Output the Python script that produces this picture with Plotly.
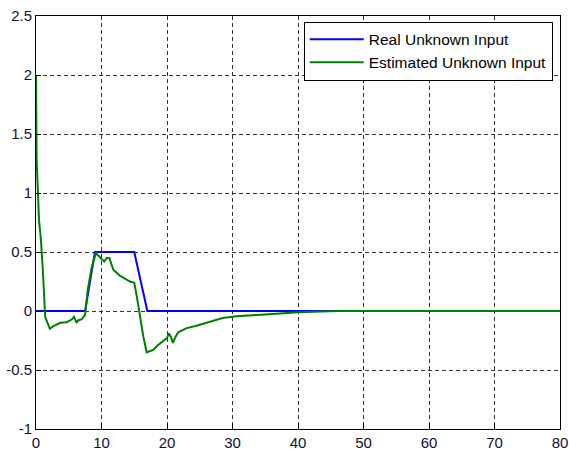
import plotly.graph_objects as go

# Real unknown input
real_t = [0, 7.5, 9.0, 15.0, 17.0, 80]
real_u = [0, 0, 0.5, 0.5, 0, 0]

# Estimated unknown input
est_t = [0, 0.1, 0.46, 0.76, 1.07, 1.4, 2.1, 2.6, 3.7, 4.7, 5.5, 5.8, 6.2, 6.4, 7.0, 7.5,
         7.9, 8.5, 9.15, 9.5, 10.0, 10.4, 10.8, 11.2, 11.8, 12.8, 14.35, 15.0, 15.4, 15.9,
         16.4, 16.9, 17.9, 18.6, 19.4, 20.0, 20.3, 20.6, 20.9, 21.2, 21.7, 23.0, 24.5, 26.6,
         28.5, 30.6, 33.0, 35.0, 37.0, 40.0, 46.0, 80]
est_u = [2.0, 1.28, 0.77, 0.6, 0.32, -0.05, -0.15, -0.13, -0.1, -0.095, -0.07, -0.05, -0.1, -0.08, -0.07, -0.03,
         0.18, 0.37, 0.49, 0.47, 0.44, 0.42, 0.45, 0.45, 0.35, 0.3, 0.25, 0.24, 0.12, -0.05,
         -0.22, -0.35, -0.33, -0.29, -0.26, -0.23, -0.19, -0.22, -0.27, -0.23, -0.18, -0.145, -0.125, -0.09,
         -0.06, -0.045, -0.035, -0.025, -0.02, -0.01, 0, 0]

x_ticks = [0, 10, 20, 30, 40, 50, 60, 70, 80]
y_ticks = [-1, -0.5, 0, 0.5, 1, 1.5, 2, 2.5]
y_tick_text = ["-1", "-0.5", "0", "0.5", "1", "1.5", "2", "2.5"]

fig = go.Figure()
fig.add_trace(go.Scatter(x=real_t, y=real_u, mode="lines", name="Real Unknown Input",
                         line=dict(color="#0000ff", width=2)))
fig.add_trace(go.Scatter(x=est_t, y=est_u, mode="lines", name="Estimated Unknown Input",
                         line=dict(color="#008000", width=2)))

axis_common = dict(showline=True, linecolor="black", linewidth=1, mirror=True,
                   showgrid=True, gridcolor="#333333", griddash="4px,3px", gridwidth=1,
                   zeroline=False, ticks="inside", ticklen=5, tickcolor="black",
                   automargin=False,
                   tickfont=dict(family="Liberation Sans, Arial", size=15, color="#101030"))

fig.update_xaxes(range=[0, 80], tickvals=x_ticks, **axis_common)
fig.update_yaxes(range=[-1, 2.5], tickvals=y_ticks, ticktext=y_tick_text, **axis_common)

fig.update_layout(
    width=569, height=450,
    margin=dict(l=36, r=9, t=16, b=21),
    paper_bgcolor="white", plot_bgcolor="white",
    showlegend=True,
    legend=dict(x=0.511, y=0.915, xanchor="left", yanchor="middle",
                bgcolor="white", bordercolor="black", borderwidth=1,
                font=dict(family="Liberation Sans, Arial", size=15.5, color="black"),
                tracegroupgap=0, itemwidth=54),
)

fig.write_html("out.html",
               config={"displayModeBar": False},
               post_script="document.body.style.margin='0';document.body.style.padding='0';")
